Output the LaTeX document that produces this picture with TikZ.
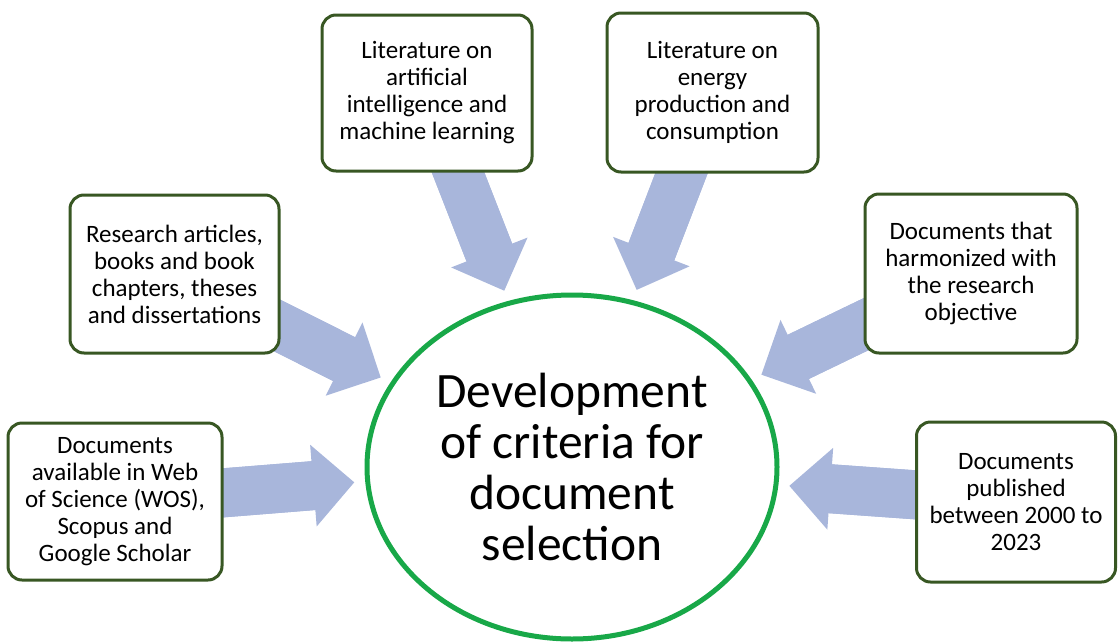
\documentclass[tikz,border=0pt]{standalone}
\usepackage{fontspec}
\setmainfont{Carlito}
\usetikzlibrary{shapes.geometric,arrows.meta,backgrounds}

\definecolor{boxgreen}{RGB}{56,87,35}
\definecolor{ringgreen}{RGB}{24,168,72}
\definecolor{arrowblue}{RGB}{168,182,219}

\tikzset{
	crit/.style={draw=boxgreen,line width=3pt,fill=white,rounded corners=14pt,align=center,
		minimum width=210pt,minimum height=156pt,inner sep=4pt,font=\fontsize{25}{27}\selectfont},
	fat/.style={color=arrowblue,line width=49pt,-{Triangle[length=41pt,width=82pt,line width=0pt]},shorten >=11pt},
	% plain shaft running into the head, hides the joint
	shaft/.style={color=arrowblue,line width=49pt,shorten >=40pt}
}

\begin{document}
\begin{tikzpicture}[x=1pt,y=-1pt]
	\useasboundingbox (0,0) rectangle (1119,643);
	% central criterion
	\node[ellipse,draw=ringgreen,line width=5pt,minimum width=410pt,minimum height=344pt,inner sep=0pt,
		align=center,font=\fontsize{49.5}{51}\selectfont] (dev) at (572,467)
		{Development\\of criteria for\\document\\selection};
	% surrounding criteria
	\node[crit] (ai) at (427,93) {Literature on\\artificial\\intelligence and\\machine learning};
	\node[crit,minimum width=211pt,minimum height=159pt] (energy) at (712.5,92.5) {Literature on\\energy\\production and\\consumption};
	\node[crit,minimum width=209pt,minimum height=158pt] (articles) at (174.5,274) {Research articles,\\books and book\\chapters, theses\\and dissertations};
	\node[crit,minimum width=212pt,minimum height=159pt] (objective) at (971,273.5) {Documents that\\harmonized with\\the research\\objective};
	\node[crit,minimum width=214pt,minimum height=157pt] (sources) at (115,501.5) {Documents\\available in Web\\of Science (WOS),\\Scopus and\\Google Scholar};
	\node[crit,minimum width=199pt,minimum height=160pt] (period) at (1016,502) {Documents\\published\\between 2000 to\\2023};
	% block arrows behind the boxes
	\begin{pgfonlayer}{background}
		\foreach \src/\ang in {ai/111,energy/70,articles/155,objective/26,sources/184,period/355}{
			\draw[shaft] (\src.center) -- (dev.\ang);
			\draw[fat] (\src.center) -- (dev.\ang);
		}
	\end{pgfonlayer}
\end{tikzpicture}
\end{document}
